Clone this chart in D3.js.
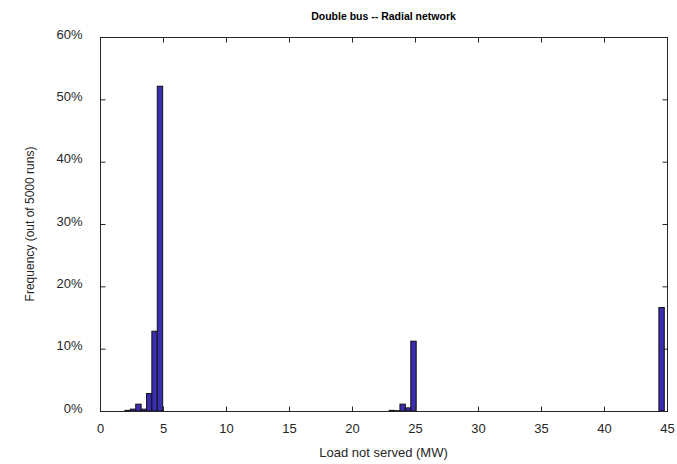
<!DOCTYPE html>
<html lang="en">

<head>
  <meta charset="utf-8">
  <title>Double bus -- Radial network</title>
  <script type="text/javascript" src="https://cdn.jsdelivr.net/npm/d3@7"></script>
  <style type="text/css">
    body { margin: 0; background: #fff; }
    text { font-family: "Liberation Sans", Arial, sans-serif; fill: #262626; }
  </style>
</head>

<body>
  <script type="text/javascript">
    // Bin centres (MW) and frequencies (fraction of 5000 runs)
    const binCenters = [2.19, 2.62, 3.05, 3.48, 3.91, 4.33, 4.76,
                        23.17, 23.59, 24.02, 24.45, 24.88,
                        44.57];
    const frequencies = [0.001, 0.003, 0.011, 0.003, 0.028, 0.128, 0.521,
                         0.001, 0.0005, 0.011, 0.005, 0.112,
                         0.166];
    const binWidth = 0.428;
    const firstEdge = 1.98;   // left edge of first bin
    const lastEdge = 44.78;   // right edge of last bin

    const xTicks = [0, 5, 10, 15, 20, 25, 30, 35, 40, 45];
    const yTicks = [0, 0.1, 0.2, 0.3, 0.4, 0.5, 0.6];

    const title = "Double bus -- Radial network";
    const xLabel = "Load not served (MW)";
    const yLabel = "Frequency (out of 5000 runs)";

    const dataset = binCenters.map(function (c, i) {
      return { x: c, value: frequencies[i] };
    });

    // Width og height
    const w = 677;
    const h = 464;
    const pLeft = 100, pRight = 667, pTop = 37, pBottom = 411;

    const xScale = d3.scaleLinear().domain([0, 45]).range([pLeft, pRight]);
    const yScale = d3.scaleLinear().domain([0, 0.6]).range([pBottom, pTop]);

    const svg = d3.select("body")
      .append("svg")
      .attr("width", w)
      .attr("height", h);

    // zero-height bins show as a line along the bottom
    svg.append("line")
      .attr("x1", xScale(firstEdge))
      .attr("x2", xScale(lastEdge))
      .attr("y1", pBottom + 0.5)
      .attr("y2", pBottom + 0.5)
      .attr("stroke", "#000")
      .attr("stroke-width", 1);

    // Bars
    svg.selectAll("rect.bar")
      .data(dataset)
      .enter()
      .append("rect")
      .attr("class", "bar")
      .attr("x", function (d) { return xScale(d.x - binWidth / 2); })
      .attr("y", function (d) { return yScale(d.value); })
      .attr("width", xScale(binWidth) - xScale(0))
      .attr("height", function (d) { return pBottom - yScale(d.value); })
      .attr("fill", "#3a2db0")
      .attr("stroke", "#111")
      .attr("stroke-width", 1);

    // Box
    svg.append("rect")
      .attr("x", pLeft + 0.5)
      .attr("y", pTop + 0.5)
      .attr("width", pRight - pLeft)
      .attr("height", pBottom - pTop)
      .attr("fill", "none")
      .attr("stroke", "#262626")
      .attr("stroke-width", 1);

    // Axes, ticks inside like matlab
    svg.append("g")
      .attr("class", "labelled")
      .attr("transform", "translate(0," + (pBottom + 0.5) + ")")
      .call(d3.axisBottom(xScale).tickValues(xTicks).tickSizeInner(-5).tickSizeOuter(0).tickPadding(12))
      .call(function (g) { g.select(".domain").remove(); });

    svg.append("g")
      .attr("transform", "translate(0," + (pTop + 0.5) + ")")
      .call(d3.axisTop(xScale).tickValues(xTicks).tickSizeInner(-5).tickSizeOuter(0).tickFormat(""))
      .call(function (g) { g.select(".domain").remove(); });

    svg.append("g")
      .attr("class", "labelled yaxis")
      .attr("transform", "translate(" + (pLeft + 0.5) + ",0)")
      .call(d3.axisLeft(yScale).tickValues(yTicks).tickSizeInner(-5).tickSizeOuter(0)
        .tickPadding(18).tickFormat(d3.format(".0%")))
      .call(function (g) { g.select(".domain").remove(); });

    svg.append("g")
      .attr("transform", "translate(" + (pRight + 0.5) + ",0)")
      .call(d3.axisRight(yScale).tickValues(yTicks).tickSizeInner(-5).tickSizeOuter(0).tickFormat(""))
      .call(function (g) { g.select(".domain").remove(); });

    svg.selectAll(".tick line").attr("stroke", "#262626");
    svg.selectAll(".labelled .tick text")
      .attr("font-family", "'Liberation Sans', Arial, sans-serif")
      .attr("font-size", 13)
      .attr("fill", "#262626");
    svg.selectAll(".yaxis .tick text").attr("dy", "0.1em");

    // Titles
    svg.append("text")
      .attr("x", (pLeft + pRight) / 2)
      .attr("y", 20)
      .attr("text-anchor", "middle")
      .style("font-size", "10.5px")
      .style("font-weight", "bold")
      .style("fill", "#000")
      .text(title);

    svg.append("text")
      .attr("x", (pLeft + pRight) / 2)
      .attr("y", 457)
      .attr("text-anchor", "middle")
      .style("font-size", "13px")
      .text(xLabel);

    svg.append("text")
      .attr("transform", "translate(34," + (pTop + pBottom) / 2 + ") rotate(-90)")
      .attr("text-anchor", "middle")
      .style("font-size", "12px")
      .text(yLabel);
  </script>
</body>

</html>
